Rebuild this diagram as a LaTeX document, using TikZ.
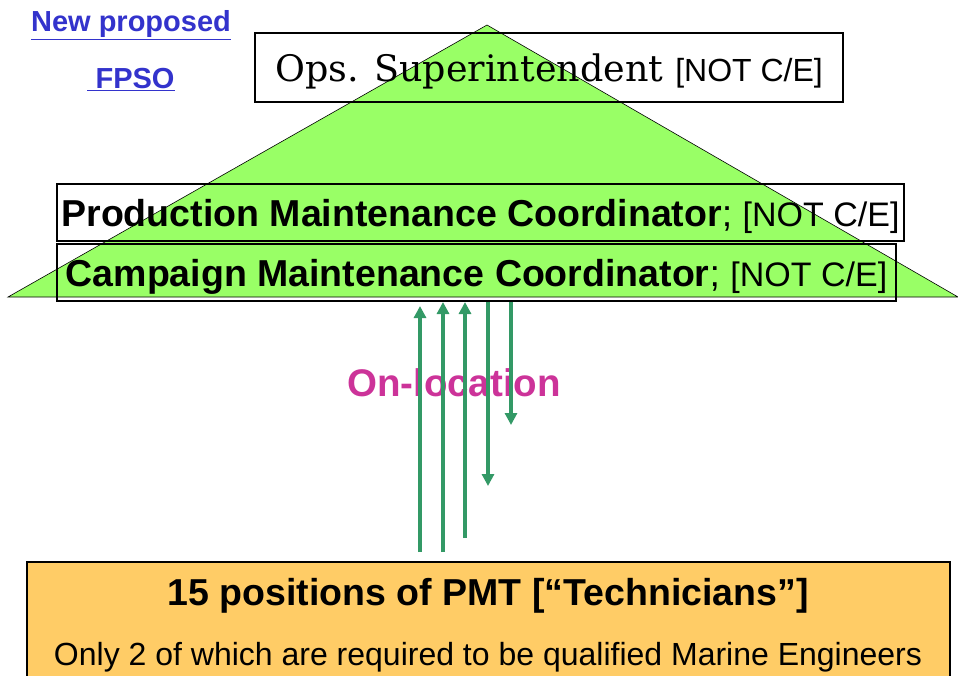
\documentclass[tikz,border=0pt]{standalone}
\usepackage{fontspec}
\setmainfont{Liberation Sans}
\newfontfamily\opsfont{DejaVu Serif}
\usetikzlibrary{arrows.meta,calc}

\definecolor{pyramidgreen}{HTML}{99FF66}
\definecolor{pmtorange}{HTML}{FFCC66}
\definecolor{flowgreen}{HTML}{339966}
\definecolor{locmagenta}{HTML}{CC3399}
\definecolor{headblue}{HTML}{3333CC}

\begin{document}
\begin{tikzpicture}[x=1pt,y=-1pt,>=Stealth,every node/.style={text depth=0pt},
  rolebox/.style={draw,line width=2pt,inner sep=0pt},
  flow/.style={draw=flowgreen,line width=3.4pt,-{Triangle[length=12pt,width=12pt]}}]
  \useasboundingbox (0,0) rectangle (958,675);
  % pyramid behind the roles
  \filldraw[fill=pyramidgreen,draw=black,line width=0.6pt] (487,25) -- (958,297) -- (8,297) -- cycle;
  \node[font=\bfseries\fontsize{29}{29}\selectfont,text=headblue] (hd1) at (131,21) {\underline{New proposed}};
  \node[font=\bfseries\fontsize{29}{29}\selectfont,text=headblue] (hd2) at (131,78) {\underline{\ FPSO}};
  \node[rolebox,minimum width=588,minimum height=69] (ops) at (549,67.5)
    {{\opsfont\fontsize{36.5}{36.5}\selectfont Ops. Superintendent}\hspace{12pt}{\fontsize{32}{32}\selectfont[NOT C/E]}};
  \node[rolebox,minimum width=847,minimum height=57] (prod) at (480.5,212.5)
    {\fontsize{37.5}{37.5}\selectfont\textbf{Production Maintenance Coordinator}; {\fontsize{34}{34}\selectfont [NOT C/E]}};
  \node[rolebox,minimum width=839,minimum height=57] (camp) at (476.5,272.5)
    {\fontsize{37.5}{37.5}\selectfont\textbf{Campaign Maintenance Coordinator}; {\fontsize{34}{34}\selectfont [NOT C/E]}};
  \draw[rolebox,fill=pmtorange] (27,562) rectangle (950,700);
  \node[font=\bfseries\fontsize{37.5}{37.5}\selectfont] (pmt) at (488,592) {15 positions of PMT [“Technicians”]};
  \node[font=\fontsize{32}{32}\selectfont] (pmtnote) at (488,654) {Only 2 of which are required to be qualified Marine Engineers};
  \node[font=\bfseries\fontsize{38.5}{38.5}\selectfont,text=locmagenta] (onloc) at (454,383) {On-location};
  % reports up and instructions down
  \coordinate (u1) at (420,552);
  \coordinate (u2) at (443,552);
  \coordinate (u3) at (465,538);
  \coordinate (d1) at (488,486);
  \coordinate (d2) at (511,425);
  \draw[flow] (u1) -- ($(camp.south -| u1)+(0,4)$);
  \draw[flow] (u2) -- (camp.south -| u2);
  \draw[flow] (u3) -- (camp.south -| u3);
  \draw[flow] (camp.south -| d1) -- (d1);
  \draw[flow] (camp.south -| d2) -- (d2);
\end{tikzpicture}
\end{document}
